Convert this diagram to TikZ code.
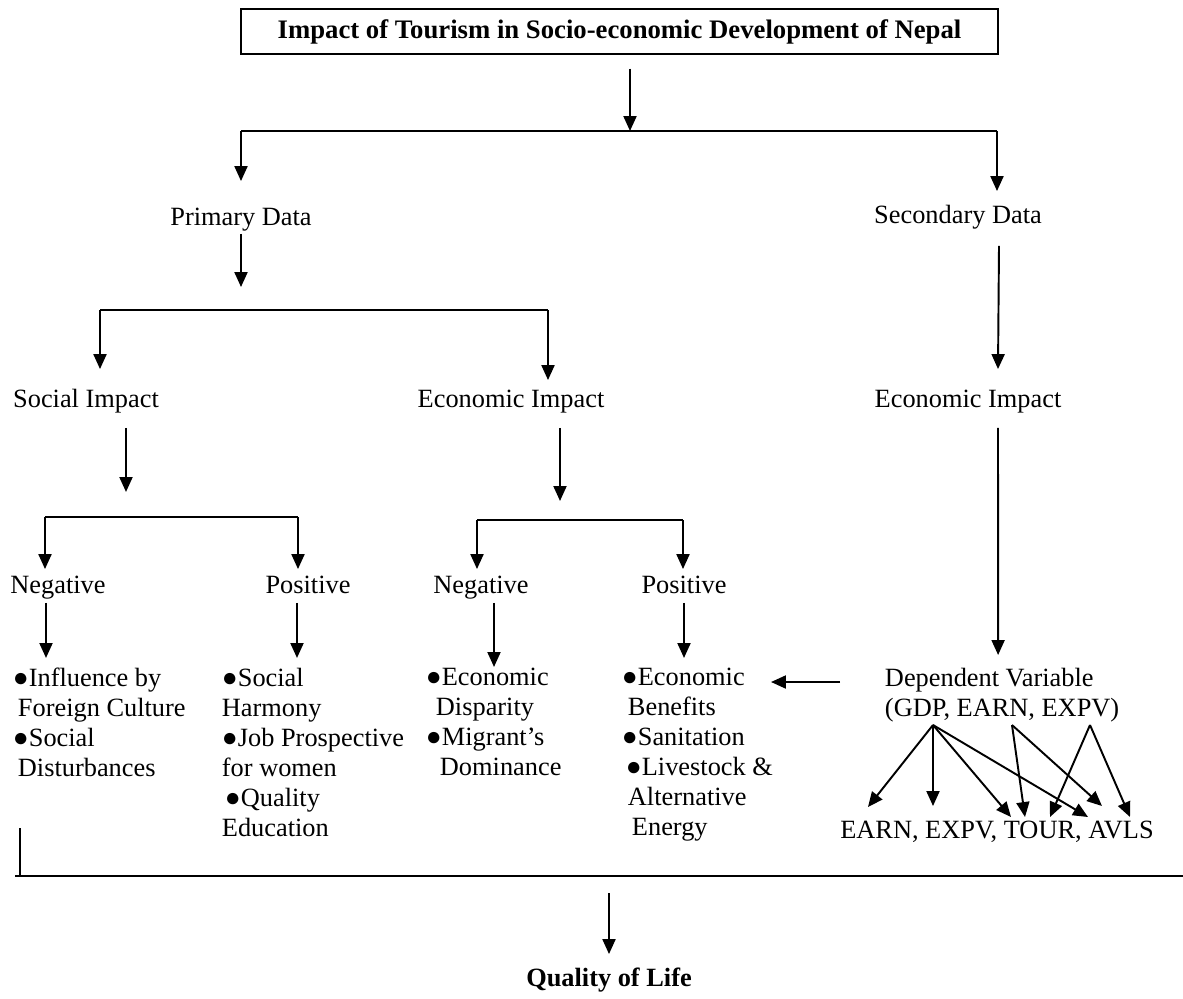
\documentclass[tikz,border=0pt]{standalone}
\usepackage{fontspec}
\setmainfont{Liberation Serif}
\usetikzlibrary{arrows.meta}

\begin{document}
\begin{tikzpicture}[x=0.02cm, y=-0.02cm, line width=1.1pt,
    lbl/.style={font=\fontsize{15}{17.07}\selectfont, inner sep=0pt, anchor=base, text height=0.34cm, text depth=0.1cm},
    blist/.style={font=\fontsize{15}{17.07}\selectfont, inner sep=0pt, anchor=north west, align=left},
    arr/.style={-{Triangle[length=8.5pt, width=7.4pt]}}]
\useasboundingbox (0,0) rectangle (1183,998);

\node[draw, line width=0.8pt, font=\fontsize{15.2}{17.07}\selectfont\bfseries, minimum width=15.14cm, minimum height=0.9cm, inner sep=0pt] (title) at (619.5,31.5) {Impact of Tourism in Socio-economic Development of Nepal};

\node[lbl] (primary) at (241,225) {Primary Data};
\node[lbl] (secondary) at (958,223) {Secondary Data};
\node[lbl] (socimp) at (86,407) {Social Impact};
\node[lbl] (ecoimp) at (511,407) {Economic Impact};
\node[lbl] (secimp) at (968,407) {Economic Impact};
\node[lbl] (sneg) at (58,593) {Negative};
\node[lbl] (spos) at (308,593) {Positive};
\node[lbl] (eneg) at (481,593) {Negative};
\node[lbl] (epos) at (684,593) {Positive};

\node[blist] (snlist) at (12,667) {●Influence by\\\hspace*{0.1cm}Foreign Culture\\●Social\\\hspace*{0.1cm}Disturbances};
\node[blist] (splist) at (221,667) {●Social\\Harmony\\●Job Prospective\\for women\\\hspace*{0.06cm}●Quality\\Education};
\node[blist] (enlist) at (425,667) {●Economic\\\hspace*{0.2cm}Disparity\\●Migrant’s\\\hspace*{0.28cm}Dominance};
\node[blist] (eplist) at (621,667) {●Economic\\\hspace*{0.12cm}Benefits\\●Sanitation\\\hspace*{0.08cm}●Livestock \&\\\hspace*{0.12cm}Alternative\\\hspace*{0.2cm}Energy};

\node[blist] (dep) at (884,667) {Dependent Variable\\(GDP, EARN, EXPV)};
\node[lbl] (vars) at (997,838) {EARN, EXPV, TOUR, AVLS};
\node[lbl, font=\fontsize{15}{17.07}\selectfont\bfseries] (qol) at (609,986) {Quality of Life};

\coordinate (t1) at (630,131);
\coordinate (b1l) at (241,131);
\coordinate (b1r) at (997,131);
\coordinate (b2l) at (100,310);
\coordinate (b2r) at (548,310);
\coordinate (b3l) at (45,517);
\coordinate (b3r) at (298,517);
\coordinate (b4l) at (477,520);
\coordinate (b4r) at (683,520);
\coordinate (dl) at (771,682);
\coordinate (sgdp) at (933,725);
\coordinate (searn) at (1012,725);
\coordinate (sexpv) at (1090,725);
\coordinate (tearn) at (868,807);
\coordinate (texpv) at (933,806);
\coordinate (ttour1) at (1011,817);
\coordinate (ttour2) at (1025,817);
\coordinate (ttour3) at (1050,817);
\coordinate (tavls1) at (1088,817);
\coordinate (tavls2) at (1102,806);
\coordinate (tavls3) at (1130,817);
\coordinate (qtop) at (20,828);
\coordinate (qbl) at (15,876);
\coordinate (qbr) at (1183,876);
\coordinate (qmid) at (609,876);

\draw[arr, shorten <=0.28cm] (title.south -| t1) -- (t1);
\draw (b1l) -- (b1r);
\draw[arr, shorten >=0.52cm] (b1l) -- (b1l |- primary.north);
\draw[arr, shorten >=0.28cm] (b1r) -- (b1r |- secondary.north);

\draw[arr, shorten <=0.06cm, shorten >=0.46cm] (primary.south -| b1l) -- (b1l |- b2l);
\draw (b2l) -- (b2r);
\draw[arr, shorten >=0.4cm] (b2l) -- (b2l |- socimp.north);
\draw[arr, shorten >=0.18cm] (b2r) -- (b2r |- ecoimp.north);
\draw[arr] ([shift={(41,17)}]secondary.south) -- ([shift={(30,-20)}]secimp.north);

\draw[arr] ([shift={(40,15)}]socimp.south) -- ([shift={(40,79)}]socimp.south);
\draw[arr] ([shift={(49,15)}]ecoimp.south) -- ([shift={(49,88)}]ecoimp.south);
\draw[arr] ([shift={(30,15)}]secimp.south) -- ([shift={(-4,-12)}]dep.north);

\draw (b3l) -- (b3r);
\draw[arr, shorten >=0.12cm] (b3l) -- (b3l |- sneg.north);
\draw[arr, shorten >=0.12cm] (b3r) -- (b3r |- spos.north);
\draw (b4l) -- (b4r);
\draw[arr, shorten >=0.12cm] (b4l) -- (b4l |- eneg.north);
\draw[arr, shorten >=0.12cm] (b4r) -- (b4r |- epos.north);

\draw[arr] ([shift={(-12,4)}]sneg.south) -- ([shift={(-12,59)}]sneg.south);
\draw[arr] ([shift={(-11,4)}]spos.south) -- ([shift={(-11,59)}]spos.south);
\draw[arr] ([shift={(13,4)}]eneg.south) -- ([shift={(13,68)}]eneg.south);
\draw[arr] ([shift={(0,4)}]epos.south) -- ([shift={(0,59)}]epos.south);

\draw[arr, shorten <=0.88cm] (dep.west |- dl) -- (dl);

\draw[arr] (sgdp) -- (tearn);
\draw[arr] (sgdp) -- (texpv);
\draw[arr] (sgdp) -- (ttour1);
\draw[arr] (sgdp) -- (tavls1);
\draw[arr] (searn) -- (ttour2);
\draw[arr] (searn) -- (tavls2);
\draw[arr] (sexpv) -- (ttour3);
\draw[arr] (sexpv) -- (tavls3);

\draw (qtop) -- (qtop |- qbl);
\draw[line width=1.6pt] (qbl) -- (qbr);
\draw[arr, shorten <=0.34cm, shorten >=0.28cm] (qmid) -- (qol.north);
\end{tikzpicture}
\end{document}
